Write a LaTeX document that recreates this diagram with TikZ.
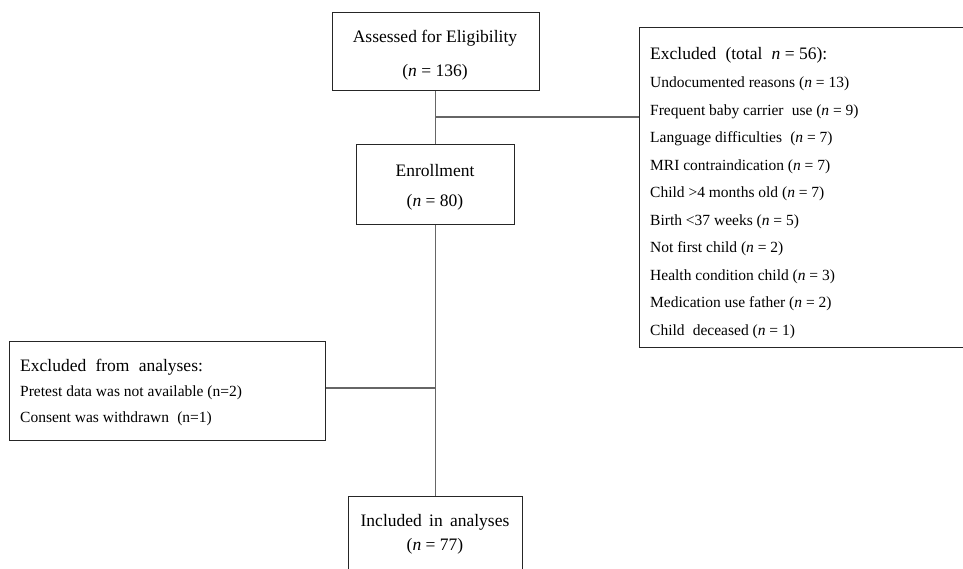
\documentclass[tikz,border=0pt]{standalone}
\usepackage{fontspec}
\setmainfont{Liberation Serif}
\begin{document}
\begin{tikzpicture}[x=1pt,y=-1pt,
  box/.style={draw=black!85, line width=1.2pt, inner sep=0pt, anchor=north west},
  conn/.style={draw=black!60, line width=1.1pt},
  bigtxt/.style={font=\fontsize{17.5}{21}\selectfont, inner sep=0pt},
  smalltxt/.style={font=\fontsize{15.5}{19}\selectfont, inner sep=0pt, anchor=west},
  headtxt/.style={font=\fontsize{17.5}{21}\selectfont, inner sep=0pt, anchor=west}]
\useasboundingbox (0,0) rectangle (963,568);
\clip (0,0) rectangle (963,568);

% central boxes
\node[box, minimum width=207, minimum height=78] (assess) at (331.5,12) {};
\node[bigtxt] (assessA) at (435,38) {Assessed for Eligibility};
\node[bigtxt] (assessB) at (435,72) {(\textit{n} = 136)};

\node[box, minimum width=158, minimum height=80] (enroll) at (356,144) {};
\node[bigtxt] (enrollA) at (435,171) {Enrollment};
\node[bigtxt] (enrollB) at (435,202) {(\textit{n} = 80)};

\node[box, minimum width=174, minimum height=90] (incl) at (348,496) {};
\node[bigtxt] (inclA) at (435,522) {Included\, in\, analyses};
\node[bigtxt] (inclB) at (435,546) {(\textit{n} = 77)};

% right exclusion box
\node[box, minimum width=335, minimum height=320] (exr) at (639,27) {};
\node[headtxt] (exrH) at (650,55) {Excluded\; (total\; \textit{n} = 56):};
\foreach \t [count=\i from 0] in {%
  {Undocumented reasons (\textit{n} = 13)},
  {Frequent baby carrier\; use (\textit{n} = 9)},
  {Language difficulties\; (\textit{n} = 7)},
  {MRI contraindication (\textit{n} = 7)},
  {Child >4 months old (\textit{n} = 7)},
  {Birth <37 weeks (\textit{n} = 5)},
  {Not first child (\textit{n} = 2)},
  {Health condition child (\textit{n} = 3)},
  {Medication use father (\textit{n} = 2)},
  {Child\; deceased (\textit{n} = 1)}}
  \node[smalltxt] (exr\i) at (650,84+27.5*\i) {\t};

% left exclusion box
\node[box, minimum width=316, minimum height=99] (exl) at (9,341) {};
\node[headtxt] (exlH) at (20,367) {Excluded\; from\; analyses:};
\node[smalltxt] (exl0) at (20,393) {Pretest data was not available (n=2)};
\node[smalltxt] (exl1) at (20,419) {Consent was withdrawn\; (n=1)};

% connectors
\draw[conn] (assess.south) -- (enroll.north);
\draw[conn] (enroll.south) -- (incl.north);
\coordinate (br1) at (435,117);
\coordinate (br2) at (435,388);
\draw[conn] (br1) -- (br1 -| exr.west);
\draw[conn] (br2) -- (br2 -| exl.east);
\end{tikzpicture}
\end{document}
